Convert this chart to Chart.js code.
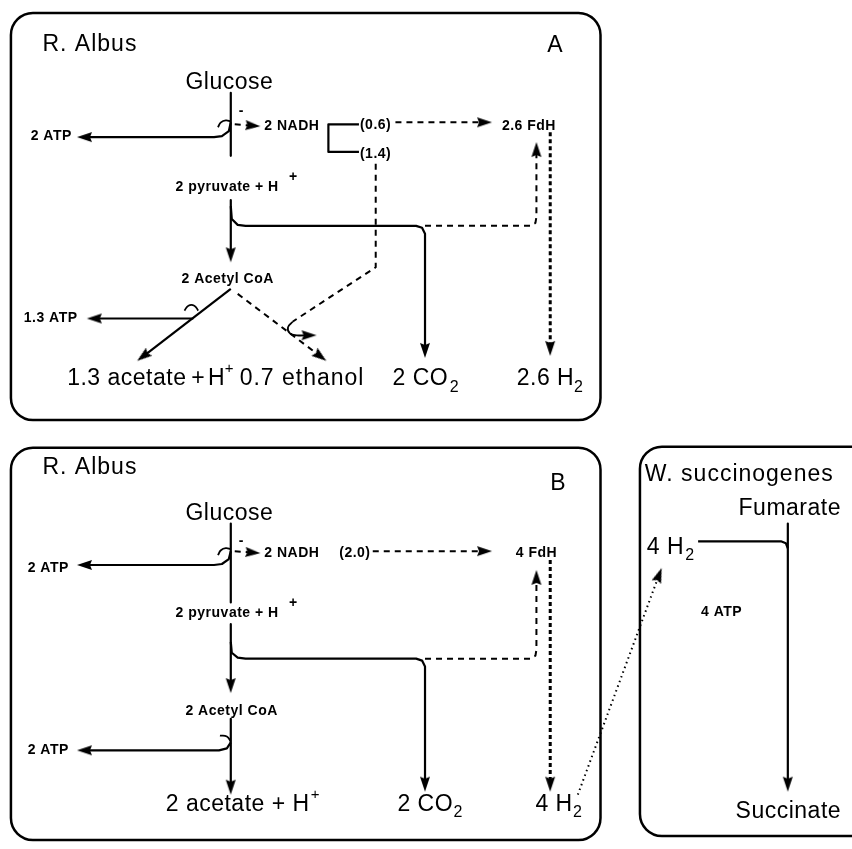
<!DOCTYPE html>
<html lang="en">
<head>
    <meta charset="UTF-8">
    <title>R. albus / W. succinogenes fermentation scheme</title>
    <script src="https://cdn.jsdelivr.net/npm/chart.js"></script>
    <style>
        body { margin: 0; background: #fff; }
    </style>
</head>
<body>
    <canvas id="scheme" width="852" height="849"></canvas>

    <script>
        // diagram units = pixels of the 852 x 849 figure, y grows downwards
        const panels = [
            [5, 7, 603, 420],      // A
            [5, 448, 603, 846],    // B
            [643, 447, 880, 842]   // W. succinogenes
        ];

        // solid reaction arrows, panel A
        const solidA = [
            { pts: [[228, 88], [228, 152]] },
            { pts: [[228, 118], [226, 127], [219, 132], [211, 133], [72, 133]], arrow: true },
            { pts: [[228, 197], [228, 260]], arrow: true },
            { pts: [[228, 203], [229, 216], [235, 222], [243, 223], [416, 223], [422, 225], [425, 231], [425, 357]], arrow: true },
            { pts: [[228, 287], [133, 360]], arrow: true },
            { pts: [[190, 317], [82, 317]], arrow: true },
            { pts: [[358, 120], [327, 120], [327, 148], [358, 148]] }
        ];

        // solid reaction arrows, panel B + W. succinogenes
        const solidB = [
            { pts: [[228, 525], [228, 605]] },
            { pts: [[228, 553], [226, 561], [219, 566], [211, 567], [72, 567]], arrow: true },
            { pts: [[228, 627], [228, 697]], arrow: true },
            { pts: [[228, 645], [229, 656], [235, 661], [243, 662], [416, 662], [422, 664], [425, 670], [425, 797]], arrow: true },
            { pts: [[228, 723], [228, 800]], arrow: true },
            { pts: [[228, 747], [224, 753], [216, 755], [72, 755]], arrow: true },
            { pts: [[702, 543], [786, 543], [791, 545], [793, 550]] },
            { pts: [[793, 525], [793, 797]], arrow: true }
        ];

        // ATP coupling hooks (curved)
        const hooks = [
            { pts: [[215, 123], [218, 118], [223, 116], [228, 117]] },
            { pts: [[181, 309], [185, 304], [191, 304], [195, 309]] },
            { pts: [[291, 320], [286, 326], [288, 332], [295, 334], [315, 334]], arrow: true },
            { pts: [[215, 557], [218, 552], [223, 550], [228, 551]] },
            { pts: [[217, 740], [224, 741], [228, 746]] }
        ];

        // electron flow (dashed)
        const dashed = [
            { pts: [[232, 120], [258, 122]], arrow: true },
            { pts: [[395, 118], [493, 118]], arrow: true },
            { pts: [[375, 160], [375, 265], [291, 320]] },
            { pts: [[235, 292], [325, 360]], arrow: true },
            { pts: [[425, 223], [532, 223], [537, 220], [538, 214], [538, 138]], arrow: true },
            { pts: [[232, 553], [258, 555]], arrow: true },
            { pts: [[372, 553], [493, 553]], arrow: true },
            { pts: [[425, 662], [532, 662], [537, 659], [538, 653], [538, 572]], arrow: true }
        ];

        // FdH -> H2 (heavy dashes)
        const hydrogenase = [
            { pts: [[552, 128], [552, 355]], arrow: true },
            { pts: [[552, 562], [552, 797]], arrow: true }
        ];

        // interspecies H2 transfer (dotted)
        const dotted = [
            { pts: [[580, 800], [665, 570]], arrow: true }
        ];

        // text: [label, x, y (middle), kind]
        const labels = [
            ['R. Albus', 37, 39, 'title'],
            ['A', 549, 40, 'big'],
            ['Glucose', 182, 78, 'big'],
            ['-', 236, 107, 'small'],
            ['2 ATP', 25, 132, 'small'],
            ['2 NADH', 262, 122, 'small'],
            ['(0.6)', 359, 121, 'small'],
            ['(1.4)', 359, 150, 'small'],
            ['2.6 FdH', 503, 122, 'small'],
            ['2 pyruvate + H', 172, 184, 'small'],
            ['+', 287, 174, 'small'],
            ['2 Acetyl CoA', 178, 277, 'small'],
            ['1.3 ATP', 18, 317, 'small'],
            ['1.3 acetate', 62, 378, 'big'],
            ['+', 188, 378, 'big'],
            ['H', 205, 378, 'big'],
            ['+', 222, 368, 'sup'],
            ['0.7 ethanol', 237, 378, 'title'],
            ['2 CO', 392, 378, 'big'],
            ['2', 450, 387, 'sub'],
            ['2.6 H', 518, 378, 'big'],
            ['2', 576, 387, 'sub'],

            ['R. Albus', 37, 468, 'title'],
            ['B', 552, 484, 'big'],
            ['Glucose', 182, 515, 'big'],
            ['-', 236, 543, 'small'],
            ['2 ATP', 22, 570, 'small'],
            ['2 NADH', 262, 555, 'small'],
            ['(2.0)', 338, 555, 'small'],
            ['4 FdH', 517, 555, 'small'],
            ['2 pyruvate + H', 172, 616, 'small'],
            ['+', 287, 606, 'small'],
            ['2 Acetyl CoA', 182, 715, 'small'],
            ['2 ATP', 22, 755, 'small'],
            ['2 acetate + H', 162, 810, 'big'],
            ['+', 309, 800, 'sup'],
            ['2 CO', 397, 810, 'big'],
            ['2', 454, 818, 'sub'],
            ['4 H', 537, 810, 'big'],
            ['2', 575, 818, 'sub'],

            ['W. succinogenes', 648, 475, 'title'],
            ['Fumarate', 743, 510, 'big'],
            ['4 H', 650, 549, 'big'],
            ['2', 689, 557, 'sub'],
            ['4 ATP', 705, 615, 'small'],
            ['Succinate', 740, 817, 'big']
        ];

        const fonts = {
            title: { font: '23px "Liberation Sans", Arial, sans-serif', spacing: '1px' },
            big:   { font: '23px "Liberation Sans", Arial, sans-serif', spacing: '0.5px' },
            small: { font: 'bold 14px "Liberation Sans", Arial, sans-serif', spacing: '0.5px' },
            sup:   { font: '15px "Liberation Sans", Arial, sans-serif', spacing: '0px' },
            sub:   { font: '16px "Liberation Sans", Arial, sans-serif', spacing: '0px' }
        };

        const ARROW_LEN = 15;
        const ARROW_HALF = 5;

        // arrowhead image: tip sits in the centre of the canvas, pointing up
        function makeArrowHead() {
            const c = document.createElement('canvas');
            c.width = ARROW_HALF * 2 + 2;
            c.height = ARROW_LEN * 2 + 2;
            const g = c.getContext('2d');
            const mx = c.width / 2, my = c.height / 2;
            g.fillStyle = '#000';
            g.beginPath();
            g.moveTo(mx, my);
            g.lineTo(mx + ARROW_HALF, my + ARROW_LEN);
            g.lineTo(mx, my + ARROW_LEN - 2);
            g.lineTo(mx - ARROW_HALF, my + ARROW_LEN);
            g.closePath();
            g.fill();
            return c;
        }

        const arrowTips = [];

        function toDataset(path, style) {
            const pts = path.pts.map(p => ({ x: p[0], y: p[1] }));
            if (path.arrow) {
                const n = pts.length;
                const tip = pts[n - 1], prev = pts[n - 2];
                const dx = tip.x - prev.x, dy = tip.y - prev.y;
                const d = Math.hypot(dx, dy);
                arrowTips.push({ x: tip.x, y: tip.y, rot: Math.atan2(dx, -dy) * 180 / Math.PI });
                // stop the shaft inside the head
                const cut = Math.min(ARROW_LEN * 0.6, d);
                pts[n - 1] = { x: tip.x - dx / d * cut, y: tip.y - dy / d * cut };
            }
            return Object.assign({
                data: pts,
                showLine: true,
                pointRadius: 0,
                borderColor: '#000',
                borderJoinStyle: 'round',
                fill: false
            }, style);
        }

        const datasets = [];
        solidA.concat(solidB).forEach(p => datasets.push(toDataset(p, { borderWidth: 2.2 })));
        hooks.forEach(p => datasets.push(toDataset(p, { borderWidth: 1.8, tension: 0.45 })));
        dashed.forEach(p => datasets.push(toDataset(p, { borderWidth: 2, borderDash: [6, 5] })));
        hydrogenase.forEach(p => datasets.push(toDataset(p, { borderWidth: 3, borderDash: [4, 3] })));
        dotted.forEach(p => datasets.push(toDataset(p, { borderWidth: 2, borderDash: [1.5, 3.5] })));

        const arrowImg = makeArrowHead();
        datasets.push({
            data: arrowTips.map(a => ({ x: a.x, y: a.y })),
            showLine: false,
            pointStyle: arrowImg,
            pointRadius: 5,
            pointRotation: ctx => arrowTips[ctx.dataIndex] ? arrowTips[ctx.dataIndex].rot : 0
        });

        const panelPlugin = {
            id: 'panels',
            beforeDatasetsDraw(chart) {
                const { ctx } = chart;
                const sx = chart.scales.x, sy = chart.scales.y;
                ctx.save();
                ctx.strokeStyle = '#000';
                ctx.lineWidth = 2.5;
                panels.forEach(b => {
                    const x0 = sx.getPixelForValue(b[0]), x1 = sx.getPixelForValue(b[2]);
                    const y0 = sy.getPixelForValue(b[1]), y1 = sy.getPixelForValue(b[3]);
                    ctx.beginPath();
                    ctx.roundRect(x0, y0, x1 - x0, y1 - y0, 22);
                    ctx.stroke();
                });
                ctx.restore();
            }
        };

        const labelPlugin = {
            id: 'labels',
            afterDatasetsDraw(chart) {
                const { ctx } = chart;
                const sx = chart.scales.x, sy = chart.scales.y;
                ctx.save();
                ctx.fillStyle = '#000';
                ctx.textAlign = 'left';
                ctx.textBaseline = 'middle';
                labels.forEach(l => {
                    const f = fonts[l[3]];
                    ctx.font = f.font;
                    ctx.letterSpacing = f.spacing;
                    ctx.fillText(l[0], sx.getPixelForValue(l[1]), sy.getPixelForValue(l[2]));
                });
                ctx.restore();
            }
        };

        new Chart(document.getElementById('scheme'), {
            type: 'scatter',
            data: { datasets: datasets },
            options: {
                responsive: false,
                devicePixelRatio: 1,
                animation: false,
                events: [],
                layout: { padding: 0 },
                plugins: { legend: { display: false }, tooltip: { enabled: false } },
                scales: {
                    x: { type: 'linear', min: 0, max: 852, display: false },
                    y: { type: 'linear', min: 0, max: 849, reverse: true, display: false }
                }
            },
            plugins: [panelPlugin, labelPlugin]
        });
    </script>
</body>
</html>
